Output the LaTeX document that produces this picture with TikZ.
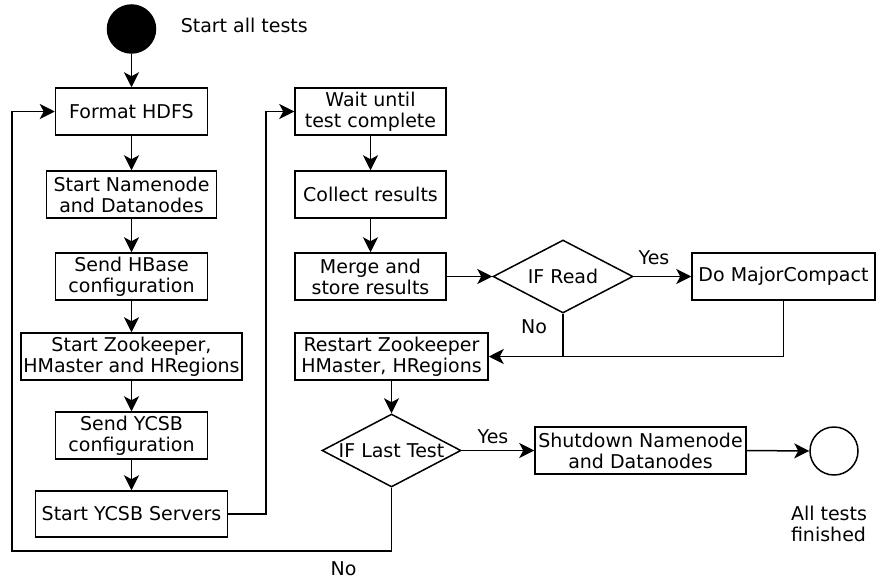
\documentclass[tikz,border=0pt]{standalone}
\usepackage{fontspec}
\setmainfont{DejaVu Sans}
\usetikzlibrary{arrows.meta,shapes.geometric}
\tikzset{
  box/.style={draw,rectangle,inner sep=0pt,align=center,minimum height=47pt},
  dia/.style={draw,diamond,inner sep=0pt,minimum width=140pt,minimum height=73pt},
  arr/.style={-{Stealth[length=15pt,width=15pt,inset=4pt]}},
  lbl/.style={inner sep=0pt}
}
\begin{document}
\begin{tikzpicture}[x=1pt,y=-1pt,line width=1.5pt,font=\fontsize{19}{21}\selectfont]
\useasboundingbox (0,0) rectangle (878,581);
% start / end
\node[circle,fill=black,draw,minimum size=48pt,inner sep=0pt] (st) at (131.5,29) {};
\node[lbl,anchor=west] (stl) at (180,25) {Start all tests};
\node[circle,draw,minimum size=48pt,inner sep=0pt] (en) at (834,451) {};
\node[lbl,align=left] (enl) at (829,524) {All tests\\finished};
% left column
\node[box,minimum width=152pt] (fmt) at (131.5,111.5) {Format HDFS};
\node[box,minimum width=170pt] (nn) at (131.5,194.5) {Start Namenode\\and Datanodes};
\node[box,minimum width=152pt] (hb) at (131.5,276.5) {Send HBase\\configuration};
\node[box,minimum width=221pt] (zk) at (131.5,356.5) {Start Zookeeper,\\HMaster and HRegions};
\node[box,minimum width=152pt] (yc) at (131.5,435.5) {Send YCSB\\configuration};
\node[box,minimum width=192pt,minimum height=46pt] (srv) at (131.5,514) {Start YCSB Servers};
% middle column
\node[box,minimum width=151pt] (wt) at (370.5,111.5) {Wait until\\test complete};
\node[box,minimum width=151pt] (col) at (370.5,194.5) {Collect results};
\node[box,minimum width=151pt] (mg) at (370.5,276.5) {Merge and\\store results};
\node[dia,label=center:IF Read] (rd) at (563,276.5) {};
\node[box,minimum width=183pt] (maj) at (783.5,276.5) {Do MajorCompact};
\node[box,minimum width=193pt] (rz) at (391.5,356.5) {Restart Zookeeper\\HMaster, HRegions};
\node[dia,label=center:IF Last Test,minimum width=139pt] (lt) at (391.5,450.5) {};
\node[box,minimum width=211pt] (sh) at (640.5,450.5) {Shutdown Namenode\\and Datanodes};
% labels
\node[lbl] (y1) at (654,258) {Yes};
\node[lbl] (n1) at (534,327) {No};
\node[lbl] (y2) at (493,437) {Yes};
\node[lbl] (n2) at (343.5,569) {No};
% coordinates
\coordinate (c1) at (266,514);
\coordinate (c2) at (391.5,551);
\coordinate (c3) at (12,551);
% connectors
\draw[arr] (st) -- (fmt);
\draw[arr] (fmt) -- (nn);
\draw[arr] (nn) -- (hb);
\draw[arr] (hb) -- (zk);
\draw[arr] (zk) -- (yc);
\draw[arr] (yc) -- (srv);
\draw[arr] (srv.east) -- (c1) |- (wt.west);
\draw[arr] (wt) -- (col);
\draw[arr] (col) -- (mg);
\draw[arr] (mg.east) -- (rd.west);
\draw[arr] (rd.east) -- (maj.west);
\draw[arr] (maj.south) |- (rz.east);
\draw (rd.south) -- (rd.south |- rz.east);
\draw[arr] (rz) -- (lt);
\draw[arr] (lt.east) -- (sh.west);
\draw[arr] (sh.east) -- (en.west);
\draw[arr] (lt.south) -- (c2) -- (c3) |- (fmt.west);
\end{tikzpicture}
\end{document}
